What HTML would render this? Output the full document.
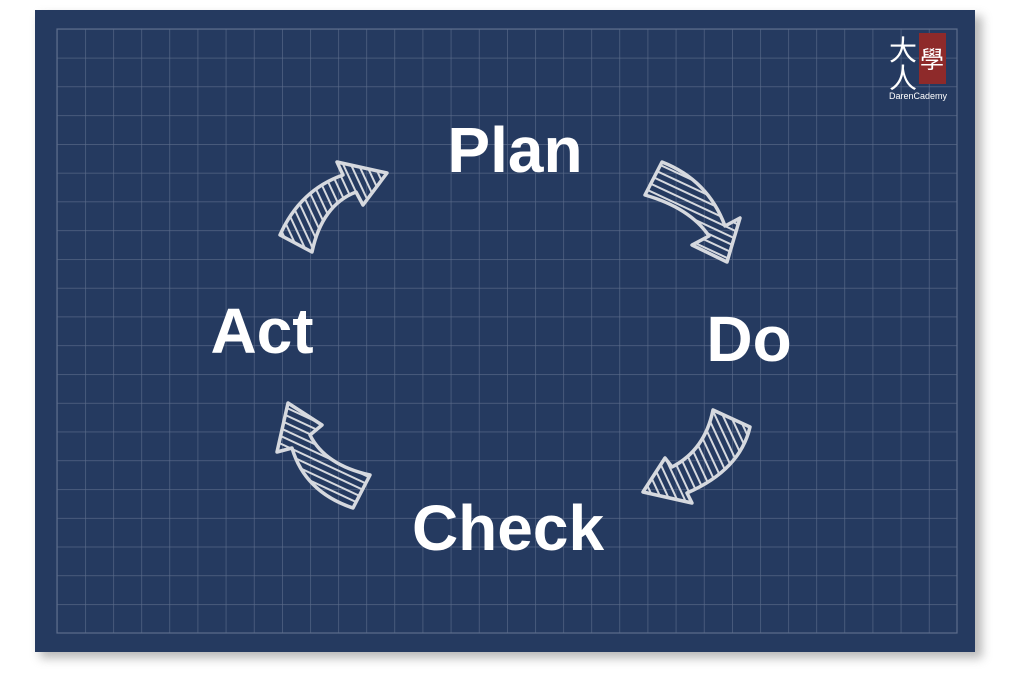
<!DOCTYPE html>
<html><head><meta charset="utf-8"><style>
html,body{margin:0;padding:0;background:#fff;width:1024px;height:678px;overflow:hidden}
</style></head><body>
<svg width="1024" height="678" viewBox="0 0 1024 678" xmlns="http://www.w3.org/2000/svg">
<defs>
<filter id="sh" x="-5%" y="-5%" width="115%" height="115%"><feGaussianBlur stdDeviation="5"/></filter>
<pattern id="grid" x="57" y="29" width="28.125" height="28.76" patternUnits="userSpaceOnUse">
<path d="M0 0 H28.125 M0 0 V28.76" stroke="#5d6d8c" stroke-width="1.2" fill="none"/>
</pattern>
<pattern id="hatchA" width="7" height="7" patternUnits="userSpaceOnUse" patternTransform="rotate(25)">
<line x1="0" y1="3.5" x2="7" y2="3.5" stroke="#d6d9df" stroke-width="2"/>
</pattern>
<pattern id="hatchB" width="7" height="7" patternUnits="userSpaceOnUse" patternTransform="rotate(65)">
<line x1="0" y1="3.5" x2="7" y2="3.5" stroke="#d6d9df" stroke-width="2"/>
</pattern>
</defs>
<rect x="40" y="16" width="942" height="642" fill="#888" filter="url(#sh)" opacity="0.6"/>
<rect x="35" y="10" width="940" height="642" fill="#253a60"/>
<rect x="57" y="29" width="900" height="604" fill="url(#grid)"/>
<rect x="57" y="29" width="900" height="604" fill="none" stroke="#5d6d8c" stroke-width="1.2"/>
<g stroke="#d6d9df" stroke-width="3.5" stroke-linejoin="round">
<path fill="url(#hatchA)" d="M662,162 Q708,180 725,226 L740,218 L727,262 L692,245 L709,236 Q690,208 645,195 Z"/>
<path fill="url(#hatchB)" d="M713,410 Q705,450 672,467 L665,458 L643,492 L692,503 L687,493 Q740,470 750,427 Z"/>
<path fill="url(#hatchA)" d="M288,403 L322,425 L310,435 Q325,465 370,475 L353,508 Q305,492 292,448 L277,452 Z"/>
<path fill="url(#hatchB)" d="M280,235 Q300,190 343,175 L337,162 L387,173 L363,205 L356,192 Q322,205 312,252 Z"/>
</g>
<g font-family="Liberation Sans, sans-serif" fill="#fff" font-size="64" font-weight="bold" text-anchor="middle">
<text x="515" y="172">Plan</text>
<text x="749" y="361">Do</text>
<text x="262" y="353">Act</text>
<text x="508" y="550">Check</text>
</g>
<g font-family="Liberation Sans, 'Noto Sans CJK TC', sans-serif">
<text x="903" y="60" font-size="28" fill="#fff" text-anchor="middle">大</text>
<text x="903" y="88" font-size="28" fill="#fff" text-anchor="middle">人</text>
<rect x="919" y="33" width="27" height="51" fill="#8e2a2a"/>
<text x="932" y="68" font-size="24" fill="#fff" text-anchor="middle">學</text>
<text x="918" y="99" font-size="9" fill="#fff" text-anchor="middle">DarenCademy</text>
</g>
</svg>
</body></html>
